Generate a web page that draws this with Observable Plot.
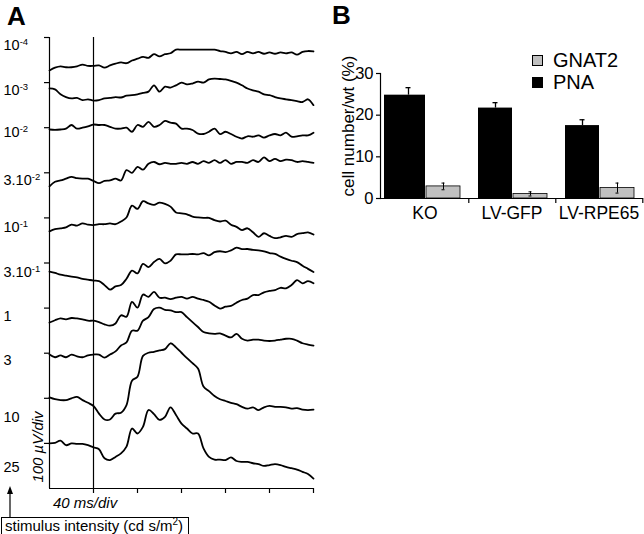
<!DOCTYPE html>
<html><head><meta charset="utf-8">
<script src="https://cdn.jsdelivr.net/npm/d3@7"></script>
<script src="https://cdn.jsdelivr.net/npm/@observablehq/plot@0.6"></script>
<style>
body{margin:0;background:#fff;}
#wrap{position:relative;width:644px;height:534px;overflow:hidden;font-family:"Liberation Sans",Arial,sans-serif;background:#fff;}
#wrap > svg{position:absolute;}
</style></head><body><div id="wrap"></div>
<script>
// ---------- Panel A data (ERG traces, µV deflection sampled every 5 ms) ----------
const times = d3.range(-40, 201, 5);
const intensityBase = ["10","10","10","3.10","10","3.10","1","3","10","25"];
const intensityExp = ["-4","-3","-2","-2","-1","-1","","","",""];
const labelLevels = [982, 882, 789, 683, 579, 479, 381, 284, 157, 47];
const traceOffsets = [927, 887, 796, 670, 570, 481, 368, 297, 202, 100];
const t_1e4 = [0,6,9,7,7,9,13,10,10,11,6,11,15,18,16,22,26,30,28,36,31,36,38,46,46,46,46,46,46,46,46,43,41,38,41,36,41,38,41,37,40,37,40,38,40,35,41,43,42];
const t_1e3 = [0,-2,-13,-19,-22,-21,-26,-24,-27,-26,-22,-21,-19,-20,-16,-15,-13,-10,-7,7,-7,4,2,7,13,9,11,15,13,20,22,21,20,17,13,7,0,-4,-7,-13,-15,-19,-22,-24,-26,-28,-30,-24,-37];
const t_1e2 = [0,-1,0,2,10,2,4,7,11,10,10,6,2,2,4,-5,10,6,17,6,10,19,15,13,2,2,-1,-9,-10,-5,2,-10,-5,-10,-16,-20,-15,-16,-13,-18,-13,-10,-13,-7,-16,-15,-13,-13,-7];
const t_3e2 = [0,10,13,17,21,18,17,17,12,7,12,13,17,13,36,30,43,37,50,54,49,52,50,50,52,50,54,50,56,52,58,52,58,50,54,54,52,58,54,64,56,61,56,59,58,54,56,54,52];
const t_1e1 = [0,5,7,9,15,13,18,15,14,16,16,18,16,22,31,57,50,67,62,59,64,61,55,42,40,38,33,31,30,30,25,22,24,15,10,3,7,-2,-12,-4,-10,-15,-13,-10,-12,-6,-4,-2,-7];
const t_3e1 = [0,-3,-7,-9,-11,-13,-16,-18,-20,-21,-30,-40,-33,-30,-16,2,-4,17,10,21,28,18,24,38,38,38,39,38,41,36,43,45,43,47,53,50,50,48,47,45,41,39,33,28,24,21,13,6,-1];
const t_1 = [0,5,9,7,10,9,7,4,4,1,-4,-7,-2,16,13,46,33,62,57,68,55,55,52,55,57,53,57,53,50,46,38,31,35,37,44,50,53,61,61,67,70,72,77,76,83,94,87,92,87];
const t_3 = [0,-6,-2,-6,0,-4,-6,-2,0,0,-7,0,7,20,27,53,53,75,83,101,104,99,98,94,94,83,72,61,50,47,46,47,42,38,46,35,31,33,33,31,30,31,33,35,35,31,25,22,20];
const t_10 = [0,-4,-6,-6,-2,1,-6,-12,-19,-36,-49,-49,-36,-34,-17,37,46,92,99,101,104,107,120,111,99,87,76,64,24,14,3,-4,-8,-12,-15,-21,-25,-22,-28,-22,-19,-21,-21,-22,-25,-24,-27,-28,-27];
const t_25 = [0,1,6,-4,0,-1,-1,-4,-9,-13,-33,-37,-30,-22,-7,33,22,37,74,65,52,59,80,63,44,33,22,22,-11,-30,-36,-36,-37,-31,-39,-41,-41,-44,-46,-50,-48,-46,-48,-52,-55,-58,-63,-68,-78];
const xTicksA = [0, 40, 80, 120, 160, 200];
const yTicksA = [100, 200, 300, 400, 500, 600, 700, 800, 900, 1000];

// ---------- Panel B data ----------
const groups = ["KO", "LV-GFP", "LV-RPE65"];
const pnaValues = [24.8, 21.7, 17.5];
const pnaErrors = [1.8, 1.3, 1.4];
const gnat2Values = [2.9, 1.1, 2.5];
const gnat2Errors = [0.8, 0.5, 1.2];
const yTicksB = [0, 10, 20, 30];

const FONT = '"Liberation Sans", Arial, sans-serif';
const traceSeries = [t_1e4, t_1e3, t_1e2, t_3e2, t_1e1, t_3e1, t_1, t_3, t_10, t_25];
const traceRows = traceSeries.flatMap((vals, i) =>
  vals.map((v, j) => ({name: intensityBase[i] + intensityExp[i], t: times[j], v: traceOffsets[i] + v})));
const labelRows = intensityBase.map((label, i) => ({label, exp: intensityExp[i], level: labelLevels[i]}));

const plotA = Plot.plot({
  width: 323, height: 534,
  marginLeft: 49, marginRight: 10, marginTop: 37, marginBottom: 46,
  style: {fontFamily: FONT, background: "none", overflow: "visible"},
  x: {domain: [-40, 200]},
  y: {domain: [0, 1000]},
  marks: [
    Plot.ruleX([-40], {stroke: "black", strokeWidth: 1.2}),
    Plot.ruleX([0], {stroke: "black", strokeWidth: 1.2}),
    Plot.ruleY([0], {stroke: "black", strokeWidth: 1.2}),
    Plot.axisY({ticks: yTicksA, tickSize: 5, tickFormat: () => "", label: null, strokeWidth: 1.2}),
    Plot.axisX({ticks: xTicksA, tickSize: 5, tickFormat: () => "", label: null, strokeWidth: 1.2}),
    Plot.line(traceRows, {x: "t", y: "v", z: "name", stroke: "black", strokeWidth: 1.8, curve: "catmull-rom"}),
    Plot.text(labelRows, {y: "level", text: "label", frameAnchor: "left", textAnchor: "start", dx: -46, fontSize: 14.5, fill: "black", className: "intensity"})
  ]
});
plotA.style.left = "0px"; plotA.style.top = "0px";
document.getElementById("wrap").appendChild(plotA);
// add exponents as superscript tspans
d3.select(plotA).selectAll(".intensity text").each(function(_, i) {
  const e = labelRows[i] && labelRows[i].exp;
  if (e) d3.select(this).append("tspan").attr("font-size", 9.5).attr("dy", "-0.55em").text(e);
});

const pnaRows = groups.map((g, i) => ({group: g, value: pnaValues[i], err: pnaErrors[i]}));
const gnatRows = groups.map((g, i) => ({group: g, value: gnat2Values[i], err: gnat2Errors[i]}));

const plotB = Plot.plot({
  width: 314, height: 240,
  marginLeft: 50, marginRight: 1, marginTop: 73, marginBottom: 42,
  style: {fontFamily: FONT, background: "none", overflow: "visible"},
  x: {type: "band", domain: groups, padding: 0},
  y: {domain: [0, 30]},
  marks: [
    Plot.barY(pnaRows.filter(d => d.group === "KO"), {x: "group", y: "value", fill: "black", insetLeft: 3, insetRight: 43}),
    Plot.barY(pnaRows.filter(d => d.group !== "KO"), {x: "group", y: "value", fill: "black", insetLeft: 10, insetRight: 43}),
    Plot.barY(gnatRows, {x: "group", y: "value", fill: "#c0c0c0", stroke: "black", strokeWidth: 0.8, insetLeft: 45, insetRight: 8}),
    Plot.ruleX(pnaRows, {x: "group", y1: "value", y2: d => d.value + d.err, dx: -16.5, stroke: "black", strokeWidth: 1.3}),
    Plot.tickY(pnaRows, {x: "group", y: d => d.value + d.err, dx: -16.5, insetLeft: 41, insetRight: 41, stroke: "black", strokeWidth: 1.3}),
    Plot.ruleX(gnatRows, {x: "group", y1: d => d.value - d.err, y2: d => d.value + d.err, dx: 18.5, stroke: "black", strokeWidth: 1}),
    Plot.tickY(gnatRows, {x: "group", y: d => d.value + d.err, dx: 18.5, insetLeft: 42, insetRight: 42, stroke: "black", strokeWidth: 1}),
    Plot.tickY(gnatRows, {x: "group", y: d => d.value - d.err, dx: 18.5, insetLeft: 42, insetRight: 42, stroke: "black", strokeWidth: 1}),
    Plot.frame({anchor: "left", stroke: "black", strokeWidth: 1.2}),
    Plot.ruleY([0], {stroke: "black", strokeWidth: 1.2}),
    Plot.axisY({ticks: yTicksB, tickSize: 4, tickPadding: 3, fontSize: 16.5, label: null, strokeWidth: 1.2}),
    Plot.axisX({tickSize: 0, tickPadding: 8, fontSize: 17.5, label: null}),
    Plot.axisX({tickSize: 5, tickFormat: () => "", dx: 43.8, label: null, strokeWidth: 1.2})
  ]
});
plotB.style.left = "330px"; plotB.style.top = "0px";
document.getElementById("wrap").appendChild(plotB);

// ---------- overlay texts ----------
const ov = d3.select("#wrap").append("svg")
  .attr("width", 644).attr("height", 534)
  .style("left", "0px").style("top", "0px").style("pointer-events", "none")
  .style("font-family", FONT);
ov.append("text").attr("x", 7).attr("y", 25).attr("font-size", 26).attr("font-weight", "bold").text("A");
ov.append("text").attr("x", 332).attr("y", 24).attr("font-size", 26).attr("font-weight", "bold").text("B");
ov.append("text").attr("transform", "translate(43,447) rotate(-90)").attr("text-anchor", "middle")
  .attr("font-size", 15).attr("font-style", "italic").text("100 µV/div");
ov.append("text").attr("x", 53).attr("y", 508).attr("font-size", 15).attr("font-style", "italic").text("40 ms/div");
ov.append("text").attr("transform", "translate(354,126) rotate(-90)").attr("text-anchor", "middle")
  .attr("font-size", 17).text("cell number/wt (%)");
// stimulus box + arrow
ov.append("rect").attr("x", 1.5).attr("y", 517.5).attr("width", 187).attr("height", 20).attr("fill", "none").attr("stroke", "black");
const st = ov.append("text").attr("x", 5).attr("y", 531).attr("font-size", 15);
st.append("tspan").text("stimulus intensity (cd s/m");
st.append("tspan").attr("font-size", 10).attr("dy", -6).text("2");
st.append("tspan").attr("dy", 6).text(")");
ov.append("line").attr("x1", 10).attr("x2", 10).attr("y1", 517).attr("y2", 492).attr("stroke", "black").attr("stroke-width", 1.2);
ov.append("path").attr("d", "M10,486 L7,494 L13,494 Z").attr("fill", "black");
// legend
ov.append("rect").attr("x", 532.5).attr("y", 55.5).attr("width", 10).attr("height", 10).attr("fill", "#c0c0c0").attr("stroke", "black");
ov.append("rect").attr("x", 532.5).attr("y", 77.5).attr("width", 10).attr("height", 10).attr("fill", "black").attr("stroke", "black");
ov.append("text").attr("x", 553).attr("y", 67).attr("font-size", 20).text("GNAT2");
ov.append("text").attr("x", 553).attr("y", 89).attr("font-size", 20).text("PNA");
</script></body></html>
